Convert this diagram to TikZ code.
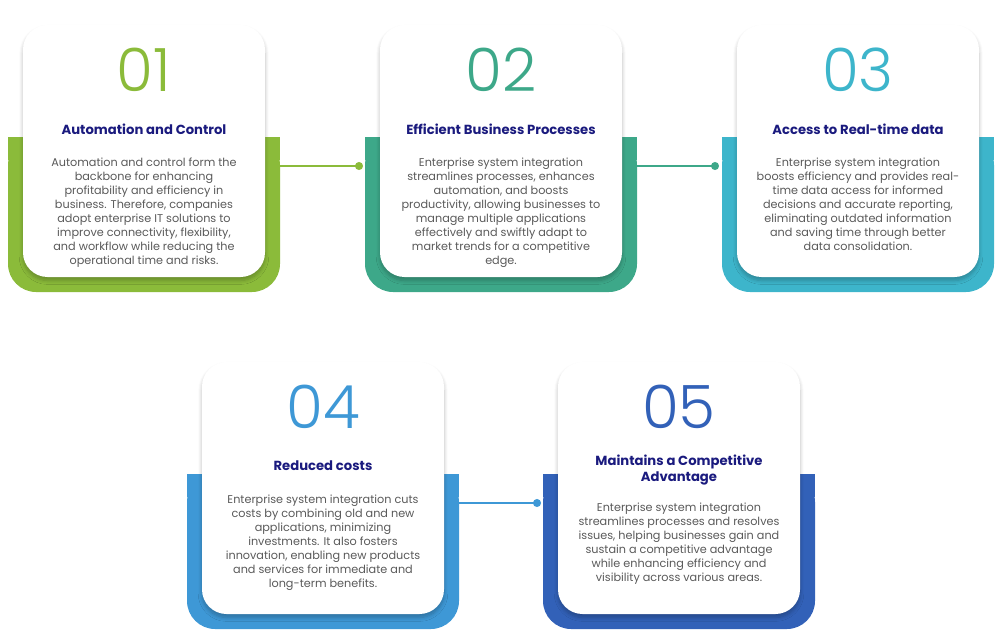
\documentclass[tikz,border=0pt]{standalone}
\usepackage{fontspec}
\setmainfont{Poppins}
\newfontfamily\thinfont{Poppins}[UprightFont=* Light]
\usetikzlibrary{shadows.blur}
\definecolor{TitleColor}{HTML}{1A1A7E}
\definecolor{BodyColor}{HTML}{5A5A5A}
\definecolor{GreenC}{HTML}{8BBB3A}
\definecolor{TealC}{HTML}{3DA889}
\definecolor{CyanC}{HTML}{3DB5CB}
\definecolor{BlueC}{HTML}{3E98D6}
\definecolor{NavyC}{HTML}{3261B8}
\tikzstyle{cardbox} = [fill=white, rounded corners=14pt, blur shadow={shadow blur steps=8, shadow xshift=0pt, shadow yshift=-2pt, shadow opacity=25}]
\tikzstyle{numtext} = [font=\thinfont\fontsize{34}{34}\selectfont]
\tikzstyle{titletext} = [font=\bfseries\fontsize{7.5}{9}\selectfont, text=TitleColor, align=center]
\tikzstyle{bodytext} = [font=\fontsize{6.4}{8}\selectfont, text=BodyColor, align=center, anchor=north]
\tikzset{x=0.02cm, y=-0.02cm, every picture/.style={line width=1pt}}
\newcommand\cardpic[8]{% x-left, y-top, colour, number, title, body, title y, body y
  \fill[#3, rounded corners=16pt] (#1-15,#2+112) -- (#1+257,#2+112) -- (#1+257,#2+267) -- (#1-15,#2+267) -- cycle;
  \fill[#3] (#1-15,#2+112) rectangle (#1+257,#2+135);
  \fill[cardbox] (#1,#2) rectangle (#1+242,#2+252);
  \node[numtext, text=#3] (n#4) at (#1+121,#2+45) {#4};
  \node[titletext] (t#4) at (#1+121,#2+#7) {#5};
  \node[bodytext] (b#4) at (#1+121,#2+#8) {#6};
}
\begin{document}
\begin{tikzpicture}
\useasboundingbox (0,0) rectangle (1000,630);
\cardpic{23}{25}{GreenC}{01}{Automation and Control}{Automation and control form the\\ backbone for enhancing\\ profitability and efficiency in\\ business. Therefore, companies\\ adopt enterprise IT solutions to\\ improve connectivity, flexibility,\\ and workflow while reducing the\\ operational time and risks.}{104}{126}
\cardpic{380}{25}{TealC}{02}{Efficient Business Processes}{Enterprise system integration\\ streamlines processes, enhances\\ automation, and boosts\\ productivity, allowing businesses to\\ manage multiple applications\\ effectively and swiftly adapt to\\ market trends for a competitive\\ edge.}{104}{126}
\cardpic{737}{25}{CyanC}{03}{Access to Real-time data}{Enterprise system integration\\ boosts efficiency and provides real-\\ time data access for informed\\ decisions and accurate reporting,\\ eliminating outdated information\\ and saving time through better\\ data consolidation.}{104}{126}
\cardpic{202}{362}{BlueC}{04}{Reduced costs}{Enterprise system integration cuts\\ costs by combining old and new\\ applications, minimizing\\ investments. It also fosters\\ innovation, enabling new products\\ and services for immediate and\\ long-term benefits.}{104}{126}
\cardpic{558}{362}{NavyC}{05}{Maintains a Competitive\\ Advantage}{Enterprise system integration\\ streamlines processes and resolves\\ issues, helping businesses gain and\\ sustain a competitive advantage\\ while enhancing efficiency and\\ visibility across various areas.}{108}{134}
% connectors
\coordinate (c1) at (280,166);
\coordinate (d1) at (359,166);
\coordinate (c2) at (636,166);
\coordinate (d2) at (715,166);
\coordinate (c4) at (457,503);
\coordinate (d4) at (537,503);
\draw[GreenC] (c1) -- (d1);
\fill[GreenC] (d1) circle (2.3pt);
\draw[TealC] (c2) -- (d2);
\fill[TealC] (d2) circle (2.3pt);
\draw[BlueC] (c4) -- (d4);
\fill[BlueC] (d4) circle (2.3pt);
\end{tikzpicture}
\end{document}
